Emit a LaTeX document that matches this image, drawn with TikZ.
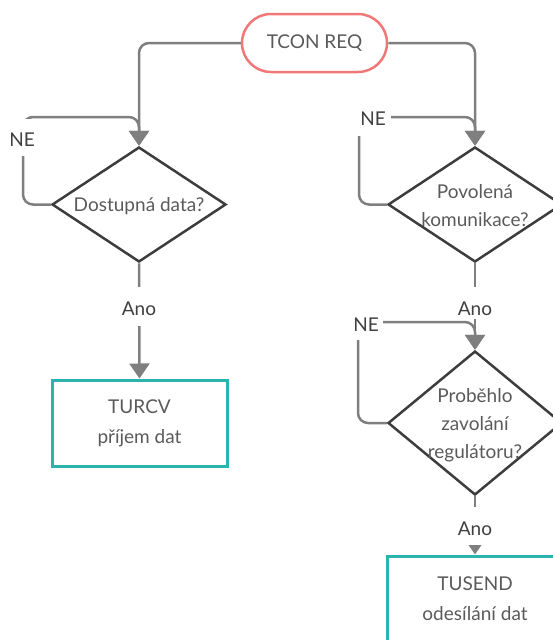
\documentclass[tikz,border=0pt]{standalone}
\usepackage{fontspec}
\setmainfont{Lato}
\usetikzlibrary{shapes.geometric,arrows.meta}
\definecolor{linec}{HTML}{7F7F7F}
\definecolor{diac}{HTML}{3D3D3D}
\definecolor{tealc}{HTML}{2BB3AE}
\definecolor{redc}{HTML}{F07878}
\definecolor{txtc}{HTML}{5A5A5A}
\definecolor{lblc}{HTML}{404040}
\begin{document}
\begin{tikzpicture}[x=1pt,y=-1pt,
  every node/.style={font=\fontsize{19}{28}\selectfont, text=txtc},
  conn/.style={draw=linec, line width=2.5pt, rounded corners=10pt},
  arr/.style={-{Triangle[width=20pt,length=15pt]}},
  decision/.style={diamond, draw=diac, line width=2.5pt, minimum width=174pt, minimum height=115pt, inner sep=0pt},
  dtext/.style={align=center, inner sep=0pt},
  proc/.style={rectangle, draw=tealc, line width=3pt, minimum width=175pt, minimum height=86pt, align=center,
    font=\fontsize{19}{30}\selectfont},
  term/.style={rectangle, rounded corners=29pt, draw=redc, line width=2.5pt, minimum width=145pt, minimum height=58pt},
  lbl/.style={fill=white, text=lblc, inner sep=0pt, anchor=base},
]
\useasboundingbox (0,0) rectangle (553,640);
\clip (0,0) rectangle (553,640);

% shapes
\node[term] (start) at (314.5,43) {TCON REQ};
\node[decision] (d1) at (139,204.5) {};
\node[dtext] (t1) at (139,206) {Dostupná data?};
\node[decision] (d2) at (475,204.5) {};
\node[dtext] (t2) at (475,206) {Povolená\\komunikace?};
\node[decision, minimum height=144pt] (d3) at (475,423) {};
\node[dtext] (t3) at (475,425) {Proběhlo\\zavolání\\regulátoru?};
\node[proc] (b1) at (139.5,423) {TURCV\\příjem dat};
\node[proc] (b2) at (475,599) {TUSEND\\odesílání dat};

% corner coordinates of the NE loops
\coordinate (ne1c) at (23,117);
\coordinate (ne2c) at (359,117);
\coordinate (ne3c) at (358,322);

% connectors
\draw[conn,arr] (start.west) -| (d1.north);
\draw[conn,arr] (start.east) -| (d2.north);
\draw[conn,arr] (d1.west) -| (ne1c) -| (d1.north);
\draw[conn,arr] (d2.west) -| (ne2c) -| (d2.north);
\draw[conn,arr] (d2.south) -- (d3.north);
\draw[conn,arr] (d3.west) -| (ne3c) -| (d3.north);
\draw[conn,arr] (d1.south) -- (b1.north);
\draw[conn,arr] (d3.south) -- (b2.north);

% connector labels
\node[lbl, minimum width=30pt, text height=27.5pt, text depth=9.5pt] (ne1) at (22,146.5) {NE};
\node[lbl, minimum width=36pt, text height=25pt, text depth=11pt] (ne2) at (373,125) {NE};
\node[lbl, minimum width=34pt, text height=25pt, text depth=9pt] (ne3) at (366,331) {NE};
\node[lbl, minimum width=42pt, text height=28pt, text depth=11pt] (a1) at (139,315) {Ano};
\node[lbl, minimum width=42pt, text height=28pt, text depth=4pt] (a2) at (475,315) {Ano};
\node[lbl, minimum width=42pt, text height=28pt, text depth=10pt] (a3) at (475,535) {Ano};
\end{tikzpicture}
\end{document}
